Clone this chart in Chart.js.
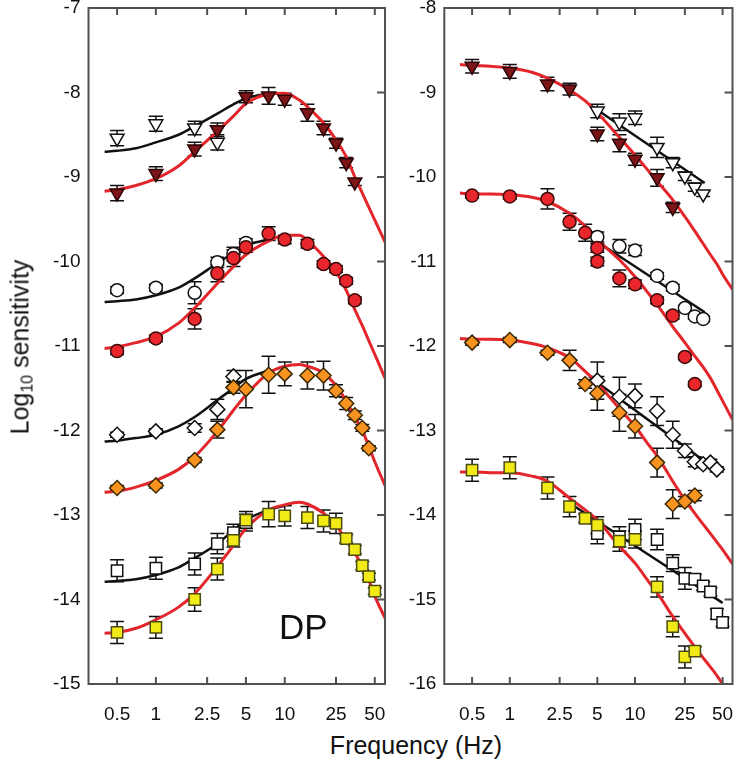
<!DOCTYPE html>
<html>
<head>
<meta charset="utf-8">
<script src="https://cdn.jsdelivr.net/npm/chart.js@4.4.0/dist/chart.umd.min.js"></script>
<style>
  body { margin: 0; background: #fff; width: 742px; height: 766px; overflow: hidden; position: relative;
         font-family: "Liberation Sans", Arial, sans-serif; color: #111; }
  #wrapL { position: absolute; left: 30px; top: -12px; }
  #wrapR { position: absolute; left: 386px; top: -12px; }
  #ytitle { position: absolute; left: 21px; top: 347px; transform: translate(-50%, -50%) rotate(-90deg);
            font-size: 25px; white-space: nowrap; }
  #ytitle sub { font-size: 16px; vertical-align: -4px; }
  #xtitle { position: absolute; left: 416px; top: 731px; transform: translateX(-50%); font-size: 25px; white-space: nowrap; }
  #dp { position: absolute; left: 279px; top: 609px; font-size: 35px; line-height: 35px; }
</style>
</head>
<body>
<div id="wrapL"><canvas id="chartL" width="365" height="742"></canvas></div>
<div id="wrapR"><canvas id="chartR" width="356" height="742"></canvas></div>
<div id="ytitle">Log<sub>10</sub> sensitivity</div>
<div id="xtitle">Frequency (Hz)</div>
<div id="dp">DP</div>
<script>
// Tick values
const xTicks = [0.5, 1, 2.5, 5, 10, 25, 50];

// ---------- Left panel measured points ----------
const fqTriRedL = [0.5, 1, 2, 3, 5, 7.5, 10, 15, 20, 25, 30, 35];
const triRedL = [-9.19, -8.96, -8.67, -8.44, -8.05, -8.04, -8.08, -8.24, -8.42, -8.60, -8.83, -9.06];
const triRedLErr = [0.09, 0.08, 0.08, 0.08, 0.07, 0.1, 0.07, 0.1, 0.08, 0.06, 0.06, 0.04];
const fqTriWhiteL = [0.5, 1, 2, 3];
const triWhiteL = [-8.54, -8.37, -8.42, -8.59];
const triWhiteLErr = [0.09, 0.09, 0.08, 0.09];

const fqCircRedL = [0.5, 1, 2, 3, 4, 5, 7.5, 10, 15, 20, 25, 30, 35];
const circRedL = [-11.06, -10.91, -10.68, -10.14, -9.96, -9.83, -9.67, -9.74, -9.79, -10.03, -10.09, -10.23, -10.46];
const circRedLErr = [0.04, 0.04, 0.12, 0.1, 0.1, 0.06, 0.08, 0.05, 0.05, 0.04, 0.04, 0.04, 0.04];
const fqCircWhiteL = [0.5, 1, 2, 3, 4, 5];
const circWhiteL = [-10.34, -10.31, -10.37, -10.01, -9.91, -9.78];
const circWhiteLErr = [0.04, 0.04, 0.13, 0.06, 0.08, 0.05];

const fqDiaOrL = [0.5, 1, 2, 3, 4, 5, 7.5, 10, 15, 20, 25, 30, 35, 40, 45];
const diaOrL = [-12.68, -12.65, -12.35, -11.99, -11.49, -11.51, -11.34, -11.33, -11.35, -11.35, -11.53, -11.68, -11.82, -11.97, -12.21];
const diaOrLErr = [0.03, 0.03, 0.03, 0.1, 0.07, 0.22, 0.22, 0.14, 0.16, 0.17, 0.07, 0.07, 0.05, 0.04, 0.03];
const fqDiaWhiteL = [0.5, 1, 2, 3, 4];
const diaWhiteL = [-12.05, -12.01, -11.97, -11.75, -11.36];
const diaWhiteLErr = [0.03, 0.03, 0.05, 0.12, 0.07];

const fqSqYelL = [0.5, 1, 2, 3, 4, 5, 7.5, 10, 15, 20, 25, 30, 35, 40, 45, 50];
const sqYelL = [-14.39, -14.33, -14.0, -13.64, -13.30, -13.06, -12.99, -13.01, -13.03, -13.07, -13.10, -13.28, -13.41, -13.60, -13.73, -13.90];
const sqYelLErr = [0.13, 0.13, 0.14, 0.13, 0.08, 0.1, 0.15, 0.12, 0.13, 0.13, 0.12, 0.05, 0.05, 0.05, 0.04, 0.04];
const fqSqWhiteL = [0.5, 1, 2, 3, 4, 5];
const sqWhiteL = [-13.66, -13.63, -13.58, -13.34, -13.21, -13.09];
const sqWhiteLErr = [0.13, 0.13, 0.13, 0.12, 0.1, 0.1];

// ---------- Right panel measured points ----------
const fqTriRedR = [0.5, 1, 2, 3, 5, 7.5, 10, 15, 20];
const triRedR = [-8.69, -8.75, -8.90, -8.96, -9.49, -9.60, -9.79, -10.01, -10.36];
const triRedRErr = [0.08, 0.08, 0.08, 0.07, 0.08, 0.1, 0.07, 0.1, 0.06];
const fqTriWhiteR = [5, 7.5, 10, 15, 20, 25, 30, 35];
const triWhiteR = [-9.22, -9.35, -9.30, -9.65, -9.83, -9.99, -10.12, -10.20];
const triWhiteRErr = [0.08, 0.1, 0.08, 0.12, 0.06, 0.05, 0.05, 0.03];

const fqCircRedR = [0.5, 1, 2, 3, 4, 5, 5, 7.5, 10, 15, 20, 25, 30];
const circRedR = [-10.22, -10.23, -10.26, -10.53, -10.66, -10.84, -11.0, -11.20, -11.27, -11.46, -11.64, -12.13, -12.45];
const circRedRErr = [0.03, 0.03, 0.12, 0.1, 0.1, 0.05, 0.05, 0.1, 0.05, 0.04, 0.04, 0.03, 0.03];
const fqCircWhiteR = [5, 7.5, 10, 15, 20, 25, 30, 35];
const circWhiteR = [-10.71, -10.82, -10.87, -11.17, -11.31, -11.55, -11.65, -11.68];
const circWhiteRErr = [0.06, 0.08, 0.06, 0.04, 0.04, 0.03, 0.03, 0.03];

const fqDiaOrR = [0.5, 1, 2, 3, 4, 5, 7.5, 10, 15, 20, 25, 30];
const diaOrR = [-11.96, -11.93, -12.08, -12.17, -12.45, -12.56, -12.79, -12.95, -13.38, -13.87, -13.84, -13.77];
const diaOrRErr = [0.03, 0.03, 0.03, 0.12, 0.05, 0.2, 0.22, 0.14, 0.17, 0.17, 0.06, 0.06];
const fqDiaWhiteR = [5, 7.5, 10, 15, 20, 25, 30, 35, 40, 45];
const diaWhiteR = [-12.41, -12.60, -12.59, -12.77, -13.05, -13.24, -13.37, -13.40, -13.38, -13.46];
const diaWhiteRErr = [0.22, 0.23, 0.14, 0.17, 0.16, 0.08, 0.06, 0.04, 0.04, 0.03];

const fqSqYelR = [0.5, 1, 2, 3, 4, 5, 7.5, 10, 15, 20, 25, 30];
const sqYelR = [-13.47, -13.44, -13.68, -13.90, -14.04, -14.12, -14.31, -14.29, -14.85, -15.32, -15.68, -15.61];
const sqYelRErr = [0.13, 0.13, 0.13, 0.12, 0.05, 0.1, 0.12, 0.1, 0.12, 0.12, 0.13, 0.05];
const fqSqWhiteR = [5, 7.5, 10, 15, 20, 25, 30, 35, 40, 45, 50];
const sqWhiteR = [-14.22, -14.26, -14.17, -14.29, -14.57, -14.75, -14.76, -14.84, -14.91, -15.17, -15.27];
const sqWhiteRErr = [0.12, 0.12, 0.12, 0.12, 0.1, 0.13, 0.06, 0.05, 0.05, 0.06, 0.05];

// ---------- Fitted curves ----------
const curveFq = [0.4, 0.5, 0.7, 1, 1.5, 2, 3, 4, 5, 7.5, 10, 13, 15, 20, 25, 30, 35, 40, 45, 50, 60];
const redL1 = [-9.17, -9.15, -9.10, -9.02, -8.87, -8.70, -8.46, -8.28, -8.13, -8.02, -8.01, -8.09, -8.17, -8.36, -8.56, -8.76, -9.00, -9.19, -9.36, -9.51, -9.77];
const redL2 = [-11.03, -11.01, -10.96, -10.89, -10.73, -10.55, -10.26, -10.06, -9.92, -9.76, -9.69, -9.69, -9.75, -9.94, -10.12, -10.34, -10.57, -10.76, -10.94, -11.10, -11.38];
const redL3 = [-12.73, -12.72, -12.67, -12.59, -12.46, -12.31, -12.01, -11.76, -11.58, -11.32, -11.24, -11.22, -11.24, -11.32, -11.47, -11.65, -11.84, -12.0, -12.19, -12.37, -12.65];
const redL4 = [-14.40, -14.39, -14.34, -14.24, -14.09, -13.93, -13.61, -13.36, -13.16, -12.94, -12.88, -12.85, -12.87, -12.98, -13.12, -13.30, -13.45, -13.61, -13.77, -13.96, -14.22];
const blackL1 = [-8.70, -8.69, -8.66, -8.59, -8.50, -8.40, -8.25, -8.14, -8.07, -8.01];
const blackL2 = [-10.48, -10.47, -10.45, -10.40, -10.31, -10.20, -10.02, -9.90, -9.81, -9.74];
const blackL3 = [-12.13, -12.12, -12.09, -12.05, -11.95, -11.84, -11.64, -11.50, -11.39, -11.29];
const blackL4 = [-13.79, -13.78, -13.76, -13.71, -13.62, -13.51, -13.34, -13.18, -13.06, -12.94, -12.89];

const redR1 = [-8.67, -8.68, -8.69, -8.71, -8.76, -8.83, -8.97, -9.10, -9.24, -9.53, -9.74, -9.94, -10.05, -10.27, -10.47, -10.64, -10.79, -10.92, -11.03, -11.15, -11.33];
const redR2 = [-10.19, -10.20, -10.20, -10.21, -10.24, -10.29, -10.43, -10.58, -10.74, -10.98, -11.18, -11.39, -11.51, -11.77, -11.96, -12.12, -12.25, -12.38, -12.52, -12.65, -12.87];
const redR3 = [-11.91, -11.92, -11.92, -11.93, -11.97, -12.02, -12.14, -12.30, -12.44, -12.74, -12.95, -13.18, -13.30, -13.60, -13.82, -13.98, -14.11, -14.22, -14.32, -14.41, -14.58];
const redR4 = [-13.49, -13.49, -13.50, -13.50, -13.54, -13.60, -13.80, -13.94, -14.06, -14.37, -14.57, -14.80, -14.92, -15.20, -15.40, -15.56, -15.69, -15.80, -15.90, -16.0, -16.16];
const fqBlackR1 = [4.3, 36], blackR1 = [-9.14, -10.07];
const fqBlackR2 = [4.6, 36], blackR2 = [-10.73, -11.60];
const fqBlackR3 = [4.3, 45], blackR3 = [-12.36, -13.47];
const fqBlackR4 = [3.3, 50], blackR4 = [-13.90, -15.04];

// ---------- Styles ----------
const RED_LINE = "#e3262b";
const markerStyle = {
    triRed: { pointStyle: "triangle", pointRotation: 180, radius: 8, bg: "#7d1518", border: "#2a0505" },
    triWhite: { pointStyle: "triangle", pointRotation: 180, radius: 8, bg: "#ffffff", border: "#111" },
    circRed: { pointStyle: "circle", pointRotation: 0, radius: 6.5, bg: "#e8262b", border: "#3a0a0a" },
    circWhite: { pointStyle: "circle", pointRotation: 0, radius: 6.5, bg: "#ffffff", border: "#111" },
    diaOr: { pointStyle: "rectRot", pointRotation: 0, radius: 7.5, bg: "#f7931e", border: "#3d2a05" },
    diaWhite: { pointStyle: "rectRot", pointRotation: 0, radius: 7.5, bg: "#ffffff", border: "#111" },
    sqYel: { pointStyle: "rect", pointRotation: 0, radius: 8, bg: "#f2ea17", border: "#4b4a12" },
    sqWhite: { pointStyle: "rect", pointRotation: 0, radius: 8, bg: "#ffffff", border: "#111" }
};

function toPts(fq, vals) {
    return vals.map((v, i) => ({ x: fq[i], y: v }));
}

function markers(fq, vals, errs, style) {
    const s = markerStyle[style];
    return {
        data: toPts(fq, vals),
        errors: errs,
        showLine: false,
        pointStyle: s.pointStyle,
        rotation: s.pointRotation,
        pointRadius: s.radius,
        pointHoverRadius: s.radius,
        pointBackgroundColor: s.bg,
        pointBorderColor: s.border,
        pointBorderWidth: 1.5,
        order: 1
    };
}

function curve(fq, vals, color, width) {
    return {
        data: toPts(fq, vals),
        showLine: true,
        borderColor: color,
        borderWidth: width,
        pointRadius: 0,
        cubicInterpolationMode: "monotone",
        order: 2
    };
}

// Error bars, drawn under the markers
const errorBars = {
    id: "errorBars",
    beforeDatasetsDraw(chart) {
        const { ctx, scales: { x, y } } = chart;
        ctx.save();
        ctx.strokeStyle = "#111";
        ctx.lineWidth = 1.5;
        chart.data.datasets.forEach((ds) => {
            if (!ds.errors) return;
            ds.data.forEach((p, j) => {
                const e = ds.errors[j];
                if (!e) return;
                const px = x.getPixelForValue(p.x);
                const y1 = y.getPixelForValue(p.y + e);
                const y2 = y.getPixelForValue(p.y - e);
                ctx.beginPath();
                ctx.moveTo(px, y1); ctx.lineTo(px, y2);
                ctx.moveTo(px - 7, y1); ctx.lineTo(px + 7, y1);
                ctx.moveTo(px - 7, y2); ctx.lineTo(px + 7, y2);
                ctx.stroke();
            });
        });
        ctx.restore();
    }
};

// Box frame with inward ticks
const frame = {
    id: "frame",
    afterDraw(chart) {
        const { ctx, chartArea: a, scales: { x, y } } = chart;
        ctx.save();
        ctx.strokeStyle = "#505050";
        ctx.lineWidth = 2;
        ctx.strokeRect(a.left, a.top, a.right - a.left, a.bottom - a.top);
        ctx.beginPath();
        xTicks.forEach((v) => {
            const px = x.getPixelForValue(v);
            ctx.moveTo(px, a.bottom); ctx.lineTo(px, a.bottom - 7);
            ctx.moveTo(px, a.top); ctx.lineTo(px, a.top + 7);
        });
        y.ticks.forEach((t) => {
            const py = y.getPixelForValue(t.value);
            ctx.moveTo(a.right, py); ctx.lineTo(a.right - 8, py);
        });
        ctx.stroke();
        ctx.restore();
    }
};

Chart.defaults.font.family = '"Liberation Sans", Arial, sans-serif';
Chart.defaults.color = "#111";

function makePanel(id, yMin, yMax, yAxisWidth, padRight, datasets) {
    return new Chart(document.getElementById(id), {
        type: "scatter",
        data: { datasets: datasets },
        options: {
            responsive: false,
            animation: false,
            layout: { padding: { top: 20, right: padRight, left: 0, bottom: 0 } },
            plugins: { legend: { display: false }, tooltip: { enabled: false } },
            scales: {
                x: {
                    type: "logarithmic",
                    min: 0.3,
                    max: 60,
                    grid: { display: false, drawTicks: false, tickLength: 0 },
                    border: { display: false },
                    afterBuildTicks: (scale) => { scale.ticks = xTicks.map((v) => ({ value: v })); },
                    afterFit: (scale) => { scale.height = 46; scale.paddingLeft = 0; scale.paddingRight = 0; },
                    ticks: {
                        autoSkip: false,
                        maxRotation: 0,
                        padding: 19,
                        font: { size: 19 },
                        callback: (v) => String(v)
                    }
                },
                y: {
                    min: yMin,
                    max: yMax,
                    grid: { display: false, drawTicks: false, tickLength: 0 },
                    border: { display: false },
                    afterFit: (scale) => { scale.width = yAxisWidth; scale.paddingTop = 0; scale.paddingBottom = 0; },
                    ticks: { stepSize: 1, padding: 8, font: { size: 19 } }
                }
            }
        },
        plugins: [errorBars, frame]
    });
}

makePanel("chartL", -15, -7, 58.5, 10, [
    markers(fqTriRedL, triRedL, triRedLErr, "triRed"),
    markers(fqTriWhiteL, triWhiteL, triWhiteLErr, "triWhite"),
    markers(fqCircRedL, circRedL, circRedLErr, "circRed"),
    markers(fqCircWhiteL, circWhiteL, circWhiteLErr, "circWhite"),
    markers(fqDiaOrL, diaOrL, diaOrLErr, "diaOr"),
    markers(fqDiaWhiteL, diaWhiteL, diaWhiteLErr, "diaWhite"),
    markers(fqSqYelL, sqYelL, sqYelLErr, "sqYel"),
    markers(fqSqWhiteL, sqWhiteL, sqWhiteLErr, "sqWhite"),
    curve(curveFq, redL1, RED_LINE, 3),
    curve(curveFq, redL2, RED_LINE, 3),
    curve(curveFq, redL3, RED_LINE, 3),
    curve(curveFq, redL4, RED_LINE, 3),
    curve(curveFq.slice(0, blackL1.length), blackL1, "#111", 2.5),
    curve(curveFq.slice(0, blackL2.length), blackL2, "#111", 2.5),
    curve(curveFq.slice(0, blackL3.length), blackL3, "#111", 2.5),
    curve(curveFq.slice(0, blackL4.length), blackL4, "#111", 2.5)
]);

makePanel("chartR", -16, -8, 58.3, 1.5, [
    markers(fqTriRedR, triRedR, triRedRErr, "triRed"),
    markers(fqTriWhiteR, triWhiteR, triWhiteRErr, "triWhite"),
    markers(fqCircRedR, circRedR, circRedRErr, "circRed"),
    markers(fqCircWhiteR, circWhiteR, circWhiteRErr, "circWhite"),
    markers(fqDiaOrR, diaOrR, diaOrRErr, "diaOr"),
    markers(fqDiaWhiteR, diaWhiteR, diaWhiteRErr, "diaWhite"),
    markers(fqSqYelR, sqYelR, sqYelRErr, "sqYel"),
    markers(fqSqWhiteR, sqWhiteR, sqWhiteRErr, "sqWhite"),
    curve(curveFq, redR1, RED_LINE, 3),
    curve(curveFq, redR2, RED_LINE, 3),
    curve(curveFq, redR3, RED_LINE, 3),
    curve(curveFq, redR4, RED_LINE, 3),
    curve(fqBlackR1, blackR1, "#111", 2.5),
    curve(fqBlackR2, blackR2, "#111", 2.5),
    curve(fqBlackR3, blackR3, "#111", 2.5),
    curve(fqBlackR4, blackR4, "#111", 2.5)
]);
</script>
</body>
</html>
